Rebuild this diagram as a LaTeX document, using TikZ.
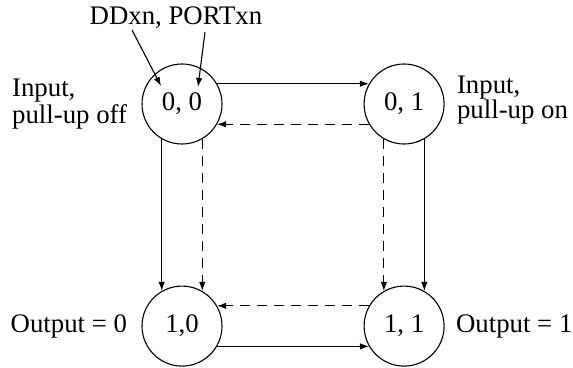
\documentclass[tikz,border=0pt]{standalone}
\usepackage{fontspec}
\setmainfont{Liberation Serif}
\usetikzlibrary{calc, positioning, arrows.meta}
\def\statesize{40pt}
\def\stategap{70.5pt}
\def\statelinewidth{0.55pt}
\def\labelgap{7pt}
\def\labelfont{\fontsize{13.4}{12.2}\selectfont}
\tikzset{
	% labels
	side_label/.style={
		font=\labelfont,
		align=left,
		inner sep=0pt,
	},
	% states
	state/.style={
		draw,
		line width=\statelinewidth,
		shape=circle,
		minimum size=\statesize,
		inner sep=0pt,
		font=\labelfont,
	},
	% connections
	connection/.style={
		line width=\statelinewidth,
		-{Latex[length=4.5pt,width=3.2pt]},
	},
	back/.style={
		connection,
		dash pattern=on 5pt off 3.5pt,
	}
}
\begin{document}
\begin{tikzpicture}
	\useasboundingbox (0pt,0pt) rectangle (286.5pt,-184pt);
	\node[
		state
	] (s00) at (91pt,-52pt) {0, 0};
	%
	\node[
		state,
		right=\stategap of s00
	] (s01) {0, 1};
	%
	\node[
		state,
		below=\stategap of s00
	] (s10) {1,0};
	%
	\node[
		state,
		right=\stategap of s10
	] (s11) {1, 1};
	%
	\node[
		side_label,
		anchor=base
	] (bits) at (88pt,-12.5pt) {DDxn, PORTxn};
	%
	\node[
		side_label,
		left=\labelgap of s00
	] (l00) {Input,\\pull-up off};
	\node[
		side_label,
		right=6pt of s01,
		yshift=2pt
	] (l01) {Input,\\pull-up on};
	\node[
		side_label,
		left=\labelgap of s10
	] (l10) {Output = 0};
	\node[
		side_label,
		right=5.5pt of s11
	] (l11) {Output = 1};
	%
	\coordinate (ddtail) at ($(bits.base)+(-22pt,-2.5pt)$);
	\coordinate (porttail) at ($(bits.base)+(14.5pt,-3.5pt)$);
	\coordinate (ddtip) at ($(s00)+(-10.5pt,9pt)$);
	\coordinate (porttip) at ($(s00)+(8pt,8.5pt)$);
	\draw[connection] (ddtail) -- (ddtip);
	\draw[connection] (porttail) -- (porttip);
	%
	\draw[connection] (s00.30) -- (s01.150);
	\draw[back] (s01.210) -- (s00.330);
	\draw[connection] (s00.240) -- (s10.120);
	\draw[back] (s00.300) -- (s10.60);
	\draw[back] (s01.240) -- (s11.120);
	\draw[connection] (s01.300) -- (s11.60);
	\draw[back] (s11.150) -- (s10.30);
	\draw[connection] (s10.330) -- (s11.210);
\end{tikzpicture}
\end{document}
